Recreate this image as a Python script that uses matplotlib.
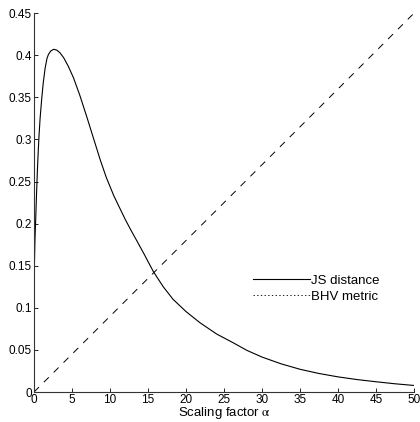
import matplotlib
matplotlib.use("Agg")
import matplotlib.pyplot as plt
from matplotlib.lines import Line2D
from matplotlib.ticker import FormatStrFormatter

# values
alpha = [0, 0.02, 0.05, 0.12, 0.22, 0.33, 0.44, 0.55, 0.66, 0.8, 1.0, 1.2,
         1.45, 1.7, 1.9, 2.2, 2.6, 3.0, 3.4, 3.9, 4.5, 5.2, 6.0, 6.9, 7.8,
         8.7, 9.5, 10.5, 11.3, 12.0, 12.7, 13.5, 14.5, 15.7, 17.0, 18.3,
         20.0, 21.8, 24.0, 26.2, 28.0, 30.0, 32.5, 35.0, 37.5, 40.0, 42.5,
         45.0, 47.5, 50.0]
js_distance = [0, 0.08, 0.15, 0.18, 0.205, 0.235, 0.262, 0.285, 0.305,
               0.325, 0.347, 0.366, 0.384, 0.396, 0.401, 0.405, 0.407,
               0.406, 0.403, 0.397, 0.387, 0.373, 0.353, 0.328, 0.302,
               0.276, 0.255, 0.233, 0.218, 0.205, 0.193, 0.180, 0.1635,
               0.143, 0.125, 0.110, 0.0955, 0.0825, 0.069, 0.0585, 0.0495,
               0.0415, 0.0335, 0.027, 0.022, 0.018, 0.0148, 0.0122, 0.0098,
               0.0078]
bhv_alpha = [0, 50]
bhv_metric = [0, 0.45]

x_ticks = list(range(0, 51, 5))
y_ticks = [0, 0.05, 0.1, 0.15, 0.2, 0.25, 0.3, 0.35, 0.4, 0.45]

plt.rcParams["font.family"] = ["Liberation Sans", "DejaVu Sans"]
plt.rcParams["mathtext.fontset"] = "stix"
plt.rcParams["lines.scale_dashes"] = False

fig = plt.figure(figsize=(4.2, 4.22), dpi=100)
ax = fig.add_axes([0.081, 0.071, 0.905, 0.898])

ax.plot(alpha, js_distance, color="black", lw=0.8)
ax.plot(bhv_alpha, bhv_metric, color="black", lw=0.7, dashes=(5, 5))

ax.set_xlim(0, 50)
ax.set_ylim(0, 0.45)
ax.set_xticks(x_ticks)
ax.set_yticks(y_ticks)
ax.yaxis.set_major_formatter(FormatStrFormatter("%g"))
ax.tick_params(direction="in", length=3, width=0.6, labelsize=8.5, pad=1.5)
ax.spines["top"].set_visible(False)
ax.spines["right"].set_visible(False)
for s in ("left", "bottom"):
    ax.spines[s].set_linewidth(0.8)
    ax.spines[s].set_color("#333333")

ax.set_xlabel(r"Scaling factor $\mathrm{\alpha}$", fontsize=9.5, labelpad=-1)

handles = [Line2D([], [], color="black", lw=0.8),
           Line2D([], [], color="black", lw=0.6, linestyle=":")]
ax.legend(handles, ["JS distance", "BHV metric"], loc="upper left",
          bbox_to_anchor=(0.5755, 0.31), frameon=False, fontsize=9.5,
          handlelength=4.3, handletextpad=0.12, labelspacing=0.3,
          borderaxespad=0, borderpad=0)

fig.savefig("out.png", dpi=100)
